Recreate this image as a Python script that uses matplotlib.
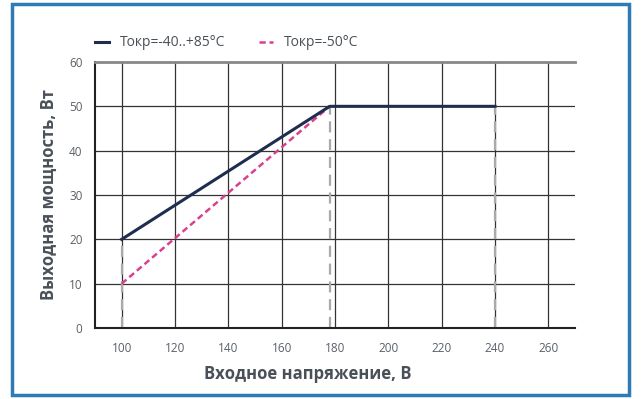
import matplotlib.pyplot as plt
from matplotlib.patches import Rectangle

plt.rcParams['font.family'] = ['Open Sans', 'DejaVu Sans']

# data
u_warm = [100, 178, 240]
p_warm = [20, 50, 50]
u_cold = [100, 178]
p_cold = [10, 50]
x_ticks = [100, 120, 140, 160, 180, 200, 220, 240, 260]
y_ticks = [0, 10, 20, 30, 40, 50, 60]

navy = '#1f2d4f'
pink = '#d9418c'
txt = '#4a5058'

W, H = 641, 399
fig = plt.figure(figsize=(W / 100, H / 100), dpi=100)
fig.patches.append(Rectangle((12 / W, 4 / H), 617 / W, 391 / H, transform=fig.transFigure,
                             fill=False, edgecolor='#2e7bb6', linewidth=2.5))

ax = fig.add_axes([95 / W, 1 - 328 / H, 480 / W, 266 / H])
ax.set_xlim(90, 270)
ax.set_ylim(0, 60)

for x in x_ticks:
    ax.axvline(x, color='#333333', lw=0.9, zorder=1)
for y in y_ticks[1:-1]:
    ax.axhline(y, color='#333333', lw=0.9, zorder=1)

# drop lines down to the axis
for x, y in zip(u_warm, p_warm):
    ax.plot([x, x], [0, y], color='#aaaaaa', lw=1.6, ls=(0, (5, 3)), zorder=2)

ax.plot(u_warm, p_warm, color=navy, lw=2.2, zorder=4, label='Tокр=-40..+85°С')
ax.plot(u_cold, p_cold, color=pink, lw=1.8, ls=(0, (2.5, 1.5)), zorder=3, label='Tокр=-50°С')

ax.spines['right'].set_visible(False)
ax.spines['top'].set_color('#888888')
ax.spines['top'].set_linewidth(2)
for s in ['left', 'bottom']:
    ax.spines[s].set_color('#222222')
    ax.spines[s].set_linewidth(1.5)

ax.set_xticks(x_ticks)
ax.set_yticks(y_ticks)
ax.tick_params(length=0, labelsize=8.5, colors='#5a6068', pad=10)
ax.tick_params(axis='y', pad=9)
ax.set_xlabel('Входное напряжение, В', fontsize=12, fontweight='bold', color=txt)
ax.xaxis.set_label_coords(0.443, -0.14)
ax.set_ylabel('Выходная мощность, Вт', fontsize=12, fontweight='bold', color=txt)
ax.yaxis.set_label_coords(-0.077, 0.5)

ax.legend(loc='center left', bbox_to_anchor=(0.0, 1 + 19 / 266), ncol=2, frameon=False,
          fontsize=10, handlelength=1.0, handletextpad=0.8, columnspacing=2.4, labelcolor=txt,
          borderaxespad=0, borderpad=0)

fig.savefig('out.png', dpi=100)
